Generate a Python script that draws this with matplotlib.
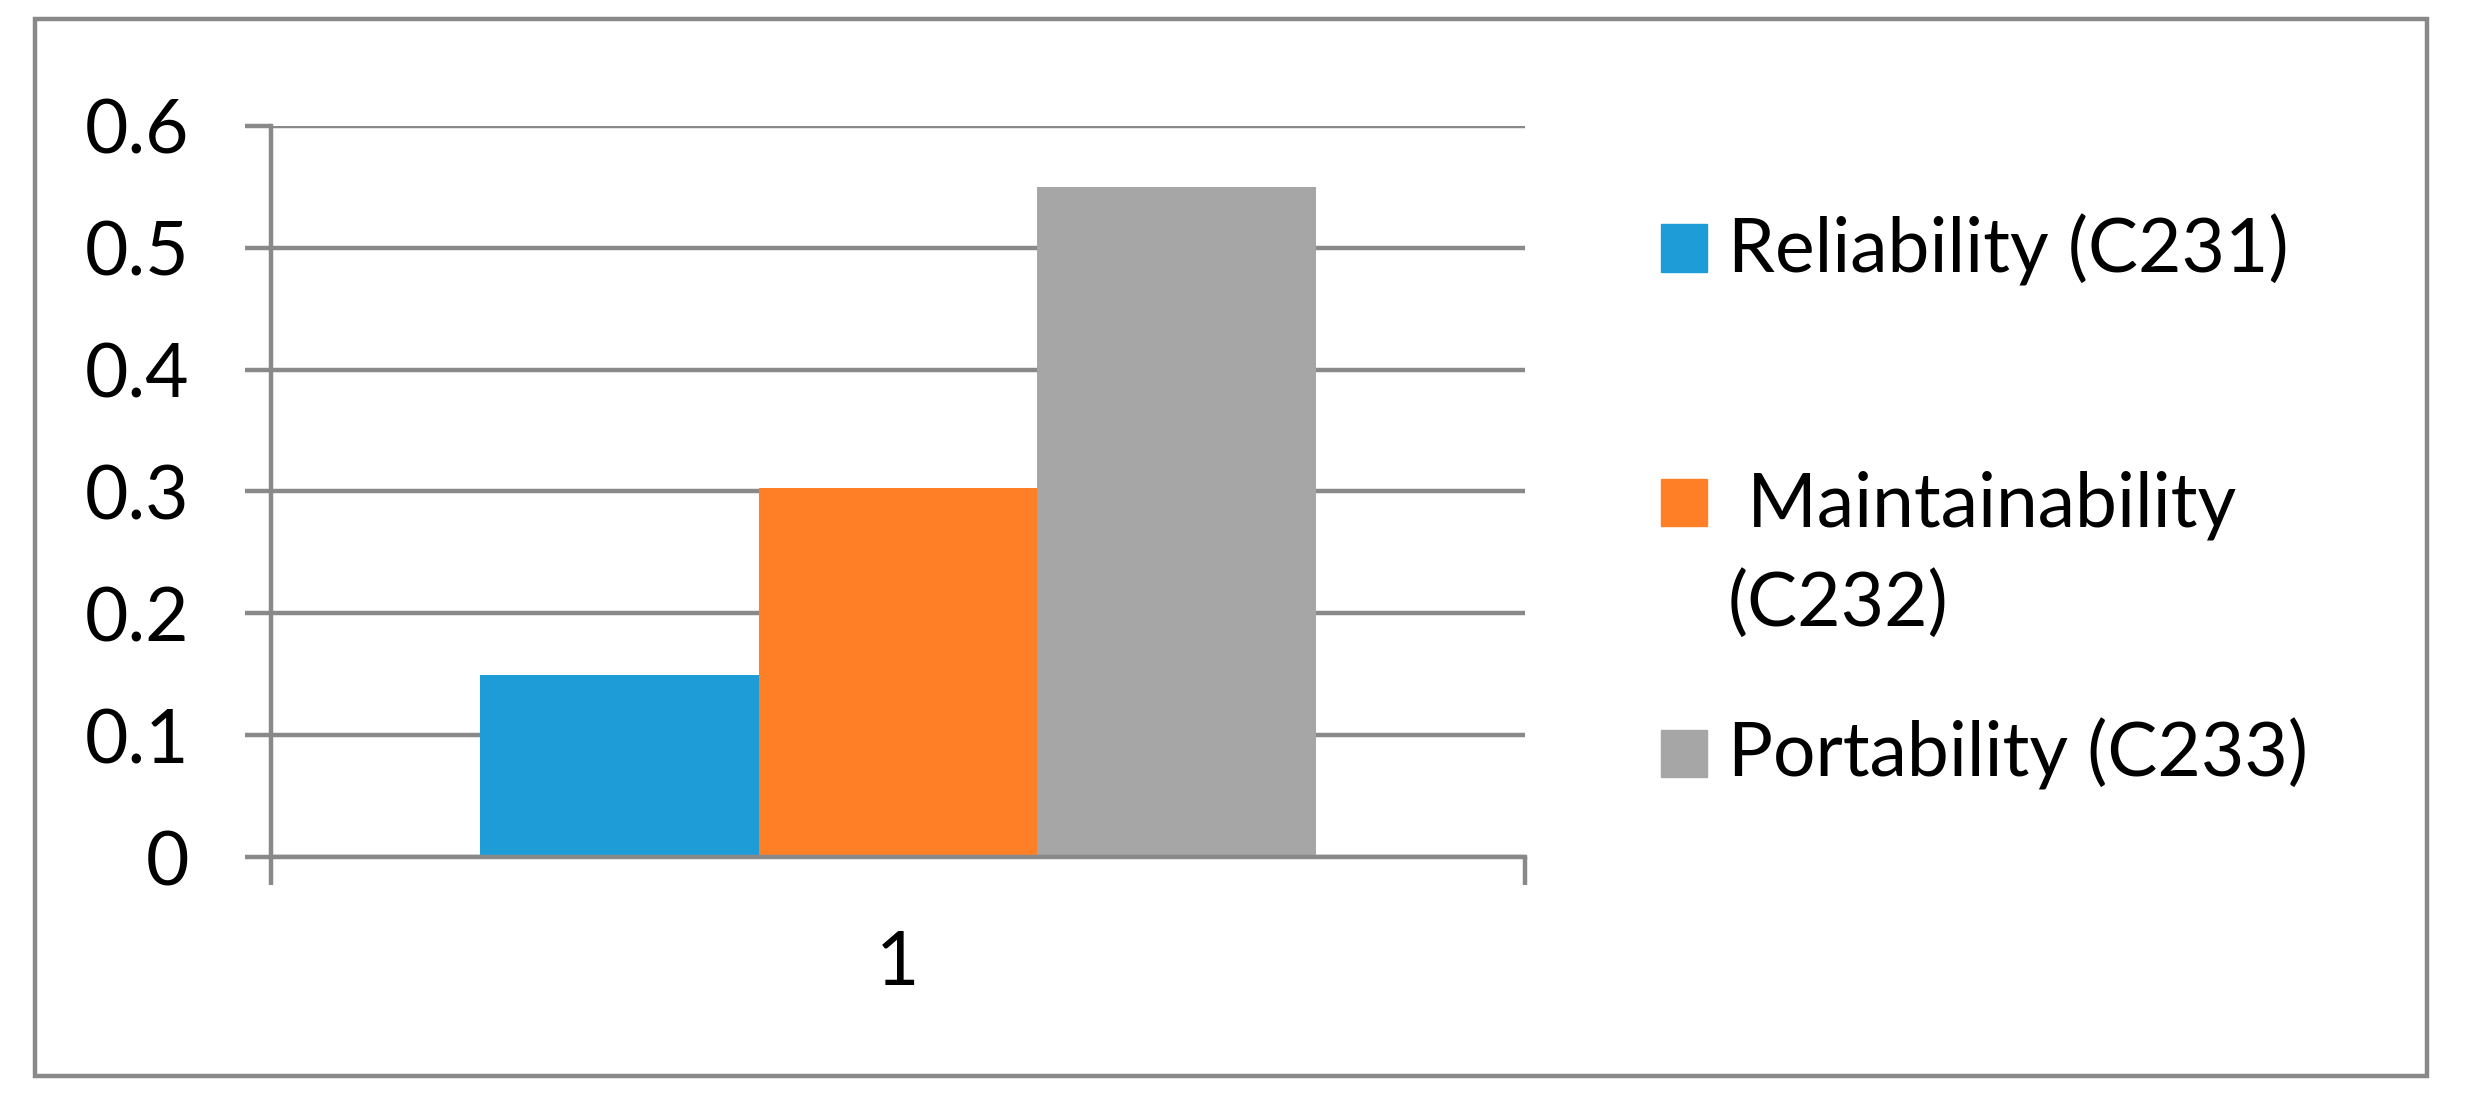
import matplotlib.pyplot as plt
from matplotlib.patches import Rectangle
from matplotlib.ticker import FixedLocator

plt.rcParams['font.family'] = ['Lato', 'DejaVu Sans']

# data
categories = ['1']
series = ['Reliability (C231)', ' Maintainability\n(C232)', 'Portability (C233)']
values = [0.149, 0.303, 0.55]
colors = ['#1E9CD8', '#FF7F27', '#A6A6A6']
yticks = [0, 0.1, 0.2, 0.3, 0.4, 0.5, 0.6]

grey = '#898989'
lw = 3.2
fs = 54
W, H = 2471, 1097
fig = plt.figure(figsize=(W / 100, H / 100), dpi=100)

# axes placement (figure fractions)
ax = fig.add_axes([271 / W, 1 - 857 / H, (1525 - 271) / W, (857 - 126) / H])

bw = 2 / 3 / len(series)
for i, (name, v, c) in enumerate(zip(series, values, colors)):
    off = (i - (len(series) - 1) / 2) * bw
    ax.bar(1 + off, v, width=bw, color=c, zorder=3, label=name)

ax.set_xlim(0.5, 1.5)
ax.set_ylim(0, 0.6)
ax.set_yticks(yticks)
ax.set_yticklabels([('%g' % t) for t in yticks])
ax.set_xticks([1])
ax.set_xticklabels(categories)
ax.xaxis.set_minor_locator(FixedLocator([0.5, 1.5]))

ax.grid(axis='y', color=grey, linewidth=lw, zorder=0)
for s in ['top', 'right']:
    ax.spines[s].set_visible(False)
for s in ['left', 'bottom']:
    ax.spines[s].set_color(grey)
    ax.spines[s].set_linewidth(lw)
    ax.spines[s].set_zorder(4)

ax.tick_params(axis='y', which='major', length=19, width=lw, color=grey,
               labelsize=fs, pad=40)
ax.tick_params(axis='x', which='major', length=0, labelsize=fs, pad=52)
ax.tick_params(axis='x', which='minor', length=20, width=lw, color=grey)

# legend drawn by hand so the key sits level with the first text line
key_x, key_w, key_h = 1661, 46, 47
txt_x = 1728
key_rows = [248, 502, 753]
line_h = 100
for name, c, r in zip(series, colors, key_rows):
    fig.patches.append(Rectangle((key_x / W, 1 - (r + key_h / 2) / H),
                                 key_w / W, key_h / H,
                                 transform=fig.transFigure, color=c))
    for k, line in enumerate(name.split('\n')):
        base = r + 24 + k * line_h
        fig.text(txt_x / W, 1 - base / H, line, fontsize=fs,
                 va='baseline', ha='left')

# outer chart border
fig.patches.append(Rectangle((35 / W, 1 - 1076 / H), (2427 - 35) / W, (1076 - 19) / H,
                             transform=fig.transFigure, fill=False,
                             edgecolor=grey, linewidth=lw))

fig.savefig('out.png', dpi=100)
